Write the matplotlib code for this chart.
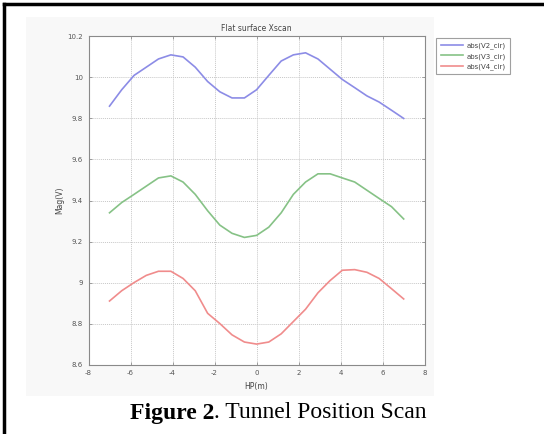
import matplotlib
matplotlib.use("Agg")
import matplotlib.pyplot as plt
from matplotlib.patches import Rectangle
from matplotlib.lines import Line2D

# scan positions (m)
hp = [-7, -6.42, -5.83, -5.25, -4.67, -4.08, -3.5, -2.92, -2.33, -1.75, -1.17, -0.58,
      0, 0.58, 1.17, 1.75, 2.33, 2.92, 3.5, 4.08, 4.67, 5.25, 5.83, 6.42, 7]

v2 = [9.86, 9.94, 10.01, 10.05, 10.09, 10.11, 10.10, 10.05, 9.98, 9.93, 9.90, 9.90,
      9.94, 10.01, 10.08, 10.11, 10.12, 10.09, 10.04, 9.99, 9.95, 9.91, 9.88, 9.84, 9.80]
v3 = [9.34, 9.39, 9.43, 9.47, 9.51, 9.52, 9.49, 9.43, 9.35, 9.28, 9.24, 9.22,
      9.23, 9.27, 9.34, 9.43, 9.49, 9.53, 9.53, 9.51, 9.49, 9.45, 9.41, 9.37, 9.31]
v4 = [8.91, 8.96, 9.00, 9.035, 9.055, 9.055, 9.02, 8.96, 8.85, 8.80, 8.745, 8.71,
      8.70, 8.71, 8.75, 8.81, 8.87, 8.95, 9.01, 9.06, 9.063, 9.05, 9.02, 8.97, 8.92]

labels = ["abs(V2_cir)", "abs(V3_cir)", "abs(V4_cir)"]
colors = ["#8c8ce6", "#86c286", "#f08c8c"]

xticks = [-8, -6, -4, -2, 0, 2, 4, 6, 8]
yticks = [8.6, 8.8, 9, 9.2, 9.4, 9.6, 9.8, 10, 10.2]

W, H = 544, 434
fig = plt.figure(figsize=(W / 100, H / 100), dpi=100)


def fx(px):
    return px / W


def fy(py):
    return 1 - py / H


# faint background of the pasted plot image
bg = Rectangle((fx(26), fy(396)), fx(434) - fx(26), fy(17) - fy(396),
               transform=fig.transFigure, facecolor="#f8f8f8",
               edgecolor="none", zorder=-5)
fig.add_artist(bg)
# page frame (left and top)
fig.add_artist(Line2D([fx(4), fx(4)], [0, fy(4)], transform=fig.transFigure,
                      color="black", lw=2.5))
fig.add_artist(Line2D([fx(4), 1], [fy(4), fy(4)], transform=fig.transFigure,
                      color="black", lw=2.5))

ax = fig.add_axes([fx(88.5), fy(364.6), fx(424.7) - fx(88.5), fy(36.4) - fy(364.6)])
ax.set_zorder(2)
ax.set_facecolor("white")

for y, lab, c in zip([v2, v3, v4], labels, colors):
    ax.plot(hp, y, color=c, lw=1.2, label=lab)

ax.set_xlim(-8, 8)
ax.set_ylim(8.6, 10.2)
ax.set_xticks(xticks)
ax.set_yticks(yticks)
ax.set_xticklabels(["%g" % t for t in xticks])
ax.set_yticklabels(["%g" % t for t in yticks])
ax.grid(True, color="#c8c8c8", ls=(0, (1, 1)), lw=0.7)
ax.tick_params(direction="in", length=2.5, width=0.6, colors="#909090",
               labelcolor="#555555", labelsize=5, top=True, right=True, pad=4)
for s in ax.spines.values():
    s.set_color("#8a8a8a")
    s.set_linewidth(0.8)

ax.set_title("Flat surface Xscan", fontsize=5.5, color="#444444", pad=4)
ax.set_xlabel("HP(m)", fontsize=5.5, color="#444444", labelpad=4)
ax.set_ylabel("Mag(V)", fontsize=5.5, color="#444444", labelpad=2)

leg = ax.legend(loc="upper left", bbox_to_anchor=(fx(433), fy(35)),
                bbox_transform=fig.transFigure, fontsize=5, frameon=True,
                fancybox=False, handlelength=3.2, borderpad=0.6, labelspacing=0.5,
                handletextpad=0.6)
leg.get_frame().set_edgecolor("#888888")
leg.get_frame().set_linewidth(0.8)
for t in leg.get_texts():
    t.set_color("#444444")

# caption: bold part + normal part, centred together
cap_y = fy(413)
t1 = fig.text(0, cap_y, "Figure 2", fontsize=17, fontweight="bold",
              family="Liberation Serif", va="center", ha="left")
t2 = fig.text(0, cap_y, ". Tunnel Position Scan", fontsize=17,
              family="Liberation Serif", va="center", ha="left")
r = fig.canvas.get_renderer()
w1 = t1.get_window_extent(r).width
w2 = t2.get_window_extent(r).width
x0 = 278 - (w1 + w2) / 2
t1.set_x(fx(x0))
t2.set_x(fx(x0 + w1))

fig.savefig("out.png", dpi=100)
